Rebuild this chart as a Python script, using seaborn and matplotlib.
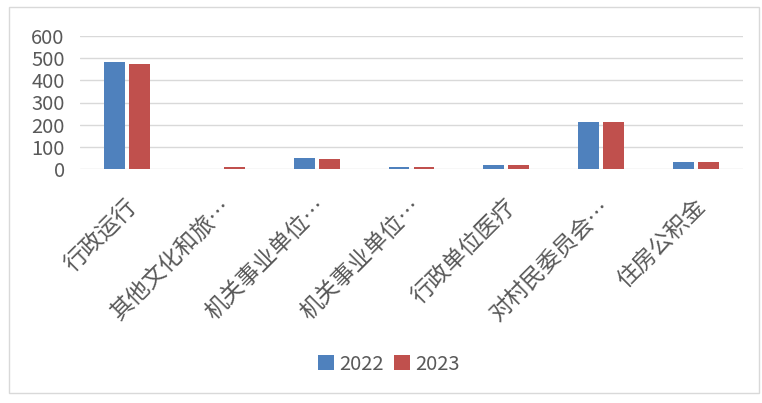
import numpy as np
import pandas as pd
import matplotlib
matplotlib.use("Agg")
import matplotlib.pyplot as plt
import matplotlib.transforms as mtransforms
from matplotlib.patches import Rectangle
import seaborn as sns

# 数据
categories = ["行政运行", "其他文化和旅…", "机关事业单位…", "机关事业单位…",
              "行政单位医疗", "对村民委员会…", "住房公积金"]
values_2022 = [483, 2, 48, 10, 20, 212, 30]
values_2023 = [475, 9, 47, 9, 20, 211, 30]
years = ["2022", "2023"]
y_ticks = [0, 100, 200, 300, 400, 500, 600]

sns.set_style("white")
plt.rcParams['font.family'] = ['Noto Sans CJK SC', 'DejaVu Sans']

df = pd.DataFrame({
    "idx": list(range(len(categories))) * 2,
    "value": values_2022 + values_2023,
    "year": [years[0]] * len(categories) + [years[1]] * len(categories),
})

fig = plt.figure(figsize=(7.62, 4.03), dpi=100)
ax = fig.add_axes([80 / 762, 1 - 169 / 403, 663 / 762, 133 / 403])

sns.barplot(data=df, x="idx", y="value", hue="year", ax=ax,
            palette=["#4F81BD", "#C0504D"], width=0.53, gap=0.17,
            saturation=1, linewidth=0, legend=True)

ax.set_ylim(0, 600)
ax.set_yticks(y_ticks)
ax.set_yticklabels([str(v) for v in y_ticks], fontsize=14.5, color="#595959")
ax.tick_params(axis="y", length=0, pad=11)
ax.grid(axis="y", color="#d9d9d9", linewidth=1)
ax.set_axisbelow(True)
for s in ax.spines.values():
    s.set_visible(False)
ax.set_xlabel("")
ax.set_ylabel("")

# x 轴标签（斜 45 度）
ax.set_xticks(range(len(categories)))
ax.set_xticklabels([])
ax.tick_params(axis="x", length=0)
offset = mtransforms.ScaledTranslation(6 / 100, -34 / 100, fig.dpi_scale_trans)
for i, lab in enumerate(categories):
    ax.text(i, 0, lab, transform=ax.get_xaxis_transform() + offset,
            rotation=45, ha="right", va="center", rotation_mode="anchor",
            fontsize=16.5, color="#595959")

# 图例
ax.legend_.remove()
handles, labels = ax.get_legend_handles_labels()
fig.legend(handles[:2], years, loc="center", bbox_to_anchor=(389 / 762, 1 - 364 / 403),
           ncol=2, frameon=False, fontsize=14.5, handlelength=0.8, handleheight=0.8,
           handletextpad=0.25, columnspacing=0.5, labelcolor="#595959")

# 外边框
fig.patches.append(Rectangle((9 / 762, 1 - 393 / 403), 750 / 762, 386 / 403,
                             transform=fig.transFigure, fill=False,
                             edgecolor="#d9d9d9", linewidth=1))

fig.savefig("out.png", dpi=100)
